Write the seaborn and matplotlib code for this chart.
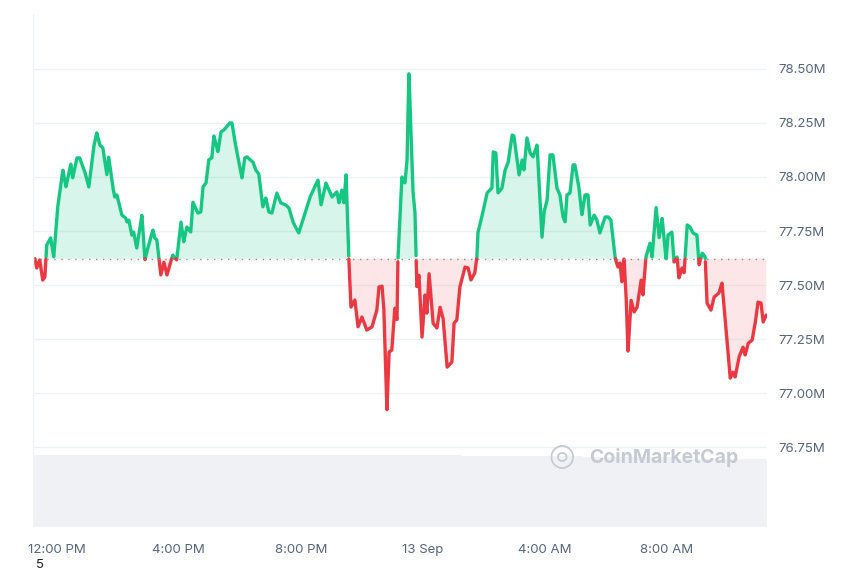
import numpy as np
import matplotlib
matplotlib.use("Agg")
import matplotlib.pyplot as plt
import seaborn as sns

# hours after 12:00 PM, 12 Sep
hours = [-0.72,-0.66,-0.56,-0.46,-0.39,-0.33,-0.20,-0.10,0.03,0.20,0.30,0.46,0.52,0.66,0.75,0.92,1.05,1.21,1.31,1.41,1.51,1.64,1.70,1.84,1.90,1.97,2.13,2.26,2.30,2.36,2.46,2.52,2.62,2.79,2.89,2.95,3.15,3.21,3.28,3.41,3.51,3.61,3.80,3.93,4.07,4.16,4.26,4.39,4.46,4.62,4.72,4.79,4.89,4.98,5.08,5.15,5.28,5.38,5.48,5.67,5.74,5.84,6.07,6.16,6.23,6.43,6.52,6.62,6.75,6.85,6.95,7.05,7.21,7.34,7.51,7.61,7.74,7.87,7.93,
         8.30,8.56,8.66,8.82,9.02,9.18,9.25,9.34,9.41,9.48,9.57,9.64,9.77,9.87,10.00,10.16,10.33,10.49,10.56,10.66,10.72,10.82,10.89,10.98,11.08,11.15,11.18,11.31,11.41,11.48,11.54,11.67,11.74,11.80,11.87,11.97,12.07,12.13,12.20,12.33,12.46,12.56,12.66,12.79,12.95,13.02,13.11,13.21,13.38,13.48,13.57,13.70,13.77,13.80,13.93,14.10,14.26,14.30,14.39,14.46,14.59,14.69,14.79,14.92,14.98,15.15,15.25,15.31,15.41,15.51,
         15.61,15.74,15.90,15.97,16.07,16.16,16.26,16.39,16.49,16.59,16.66,16.72,16.82,16.92,16.98,17.11,17.21,17.31,17.41,17.48,17.61,17.70,17.80,17.97,18.07,18.16,18.30,18.39,18.46,18.52,18.59,18.66,18.72,18.82,18.92,19.02,19.15,19.21,19.31,19.44,19.51,19.64,19.74,19.84,19.97,20.03,20.16,20.23,20.33,20.39,20.49,20.56,20.66,20.75,20.85,20.98,21.05,21.15,21.25,21.31,21.44,21.54,21.70,21.80,21.90,22.07,22.16,22.23,22.36,22.49,22.56,22.66,22.79,22.89,22.98,23.08,23.15,23.25]
values = [77.625,77.579,77.616,77.523,77.537,77.685,77.718,77.630,77.861,78.032,77.954,78.060,77.995,78.088,78.088,78.023,77.954,78.139,78.204,78.148,78.134,78.009,78.093,77.949,77.907,77.917,77.824,77.810,77.792,77.801,77.731,77.745,77.671,77.824,77.616,77.653,77.755,77.718,77.708,77.546,77.606,77.546,77.639,77.616,77.792,77.699,77.769,77.745,77.884,77.833,77.838,77.954,77.972,78.079,78.088,78.190,78.116,78.208,78.218,78.250,78.250,78.162,77.995,78.088,78.093,78.069,78.032,78.014,77.861,77.903,77.838,77.833,77.926,77.880,77.870,77.856,77.792,77.755,77.741,
          77.907,77.986,77.870,77.972,77.907,77.931,77.880,77.940,77.880,78.014,77.630,77.398,77.431,77.306,77.352,77.292,77.306,77.384,77.491,77.495,77.384,76.921,77.190,77.199,77.394,77.338,77.616,78.000,77.972,78.079,78.486,77.940,77.833,77.491,77.546,77.259,77.454,77.370,77.556,77.324,77.301,77.398,77.347,77.120,77.144,77.324,77.338,77.491,77.583,77.579,77.523,77.556,77.630,77.741,77.815,77.926,77.949,78.116,78.111,77.926,77.949,78.032,78.065,78.194,78.190,78.009,78.079,78.032,78.181,78.111,
          78.093,78.148,77.718,77.838,77.894,78.102,78.102,77.949,77.917,77.815,77.792,77.917,77.926,78.056,78.056,77.954,77.824,77.917,77.917,77.778,77.824,77.801,77.741,77.815,77.815,77.801,77.625,77.583,77.602,77.514,77.625,77.444,77.190,77.431,77.375,77.398,77.523,77.454,77.630,77.694,77.630,77.861,77.718,77.810,77.616,77.731,77.745,77.606,77.630,77.532,77.579,77.556,77.778,77.769,77.741,77.731,77.593,77.648,77.630,77.417,77.384,77.444,77.463,77.509,77.352,77.069,77.097,77.074,77.167,77.213,77.176,77.231,77.245,77.324,77.421,77.417,77.329,77.361]
baseline = 77.622

vol_hours = list(np.arange(-0.75, 23.3, 0.5))
vol_levels = [0.140]*20 + [0.141]*8 + [0.139]*8 + [0.137]*6 + [0.133]*6 + [0.129]*6 + [0.126]*6 + [0.123]*(len(vol_hours)-60)

tick_pos = [0, 4, 8, 12, 16, 20]
tick_labels = ["12:00 PM", "4:00 PM", "8:00 PM", "13 Sep", "4:00 AM", "8:00 AM"]
ytick_vals = [76.75, 77.00, 77.25, 77.50, 77.75, 78.00, 78.25, 78.50]
ytick_labels = ["76.75M", "77.00M", "77.25M", "77.50M", "77.75M", "78.00M", "78.25M", "78.50M"]

GREEN = "#16c784"
RED = "#ea3943"
sns.set_theme(style="white")
plt.rcParams['font.family'] = ['Inter', 'DejaVu Sans']

fig = plt.figure(figsize=(8.6, 5.73), dpi=100)
ax = fig.add_axes([0.038, 0.080, 0.854, 0.896])
axv = ax.twinx()
axv.set_zorder(0)
ax.set_zorder(1)
ax.patch.set_alpha(0)

# volume
axv.bar(vol_hours[:len(vol_levels)], vol_levels[:len(vol_hours)], width=0.5, color="#eff1f4",
        linewidth=0, align="edge")
axv.set_ylim(0, 1)
axv.set_yticks([])
for s in axv.spines.values():
    s.set_visible(False)

# price line split at baseline
x = np.array(hours); y = np.array(values)
fx = np.linspace(x[0], x[-1], 6000)
fy = np.interp(fx, x, y)
above = fy >= baseline
ax.fill_between(fx, baseline, fy, where=above, color=GREEN, alpha=0.17, linewidth=0, interpolate=True)
ax.fill_between(fx, baseline, fy, where=~above, color=RED, alpha=0.12, linewidth=0, interpolate=True)
ax.plot(fx, np.where(above, fy, np.nan), color=GREEN, lw=2.4, solid_capstyle="round")
ax.plot(fx, np.where(~above, fy, np.nan), color=RED, lw=2.4, solid_capstyle="round")
ax.axhline(baseline, color="#8a919c", lw=1, ls=(0, (1, 4)))

ax.set_xlim(-0.79, 23.28)
ax.set_ylim(76.38, 78.755)
ax.set_yticks(ytick_vals)
ax.set_yticklabels(ytick_labels)
ax.yaxis.tick_right()
ax.set_xticks(tick_pos)
ax.set_xticklabels(tick_labels)
ax.tick_params(axis="both", labelsize=9.5, colors="#58667e", length=0, pad=8)
ax.tick_params(axis="x", pad=12)
ax.grid(axis="y", color="#eff2f5", lw=1)
ax.grid(axis="x", visible=False)
for k, s in ax.spines.items():
    s.set_visible(False)
ax.axvline(-0.79, color="#eff2f5", lw=1)

# watermark
fig.text(0.653, 0.204, "\u25CE", fontsize=22, color="#c5cad3", ha="center", va="center", family="DejaVu Sans")
fig.text(0.685, 0.201, "CoinMarketCap", fontsize=14, color="#c5cad3", fontweight="bold", ha="left", va="center")
fig.text(0.042, 0.004, "5", fontsize=9.5, color="#222222", va="bottom")

fig.savefig("out.png", dpi=100)
